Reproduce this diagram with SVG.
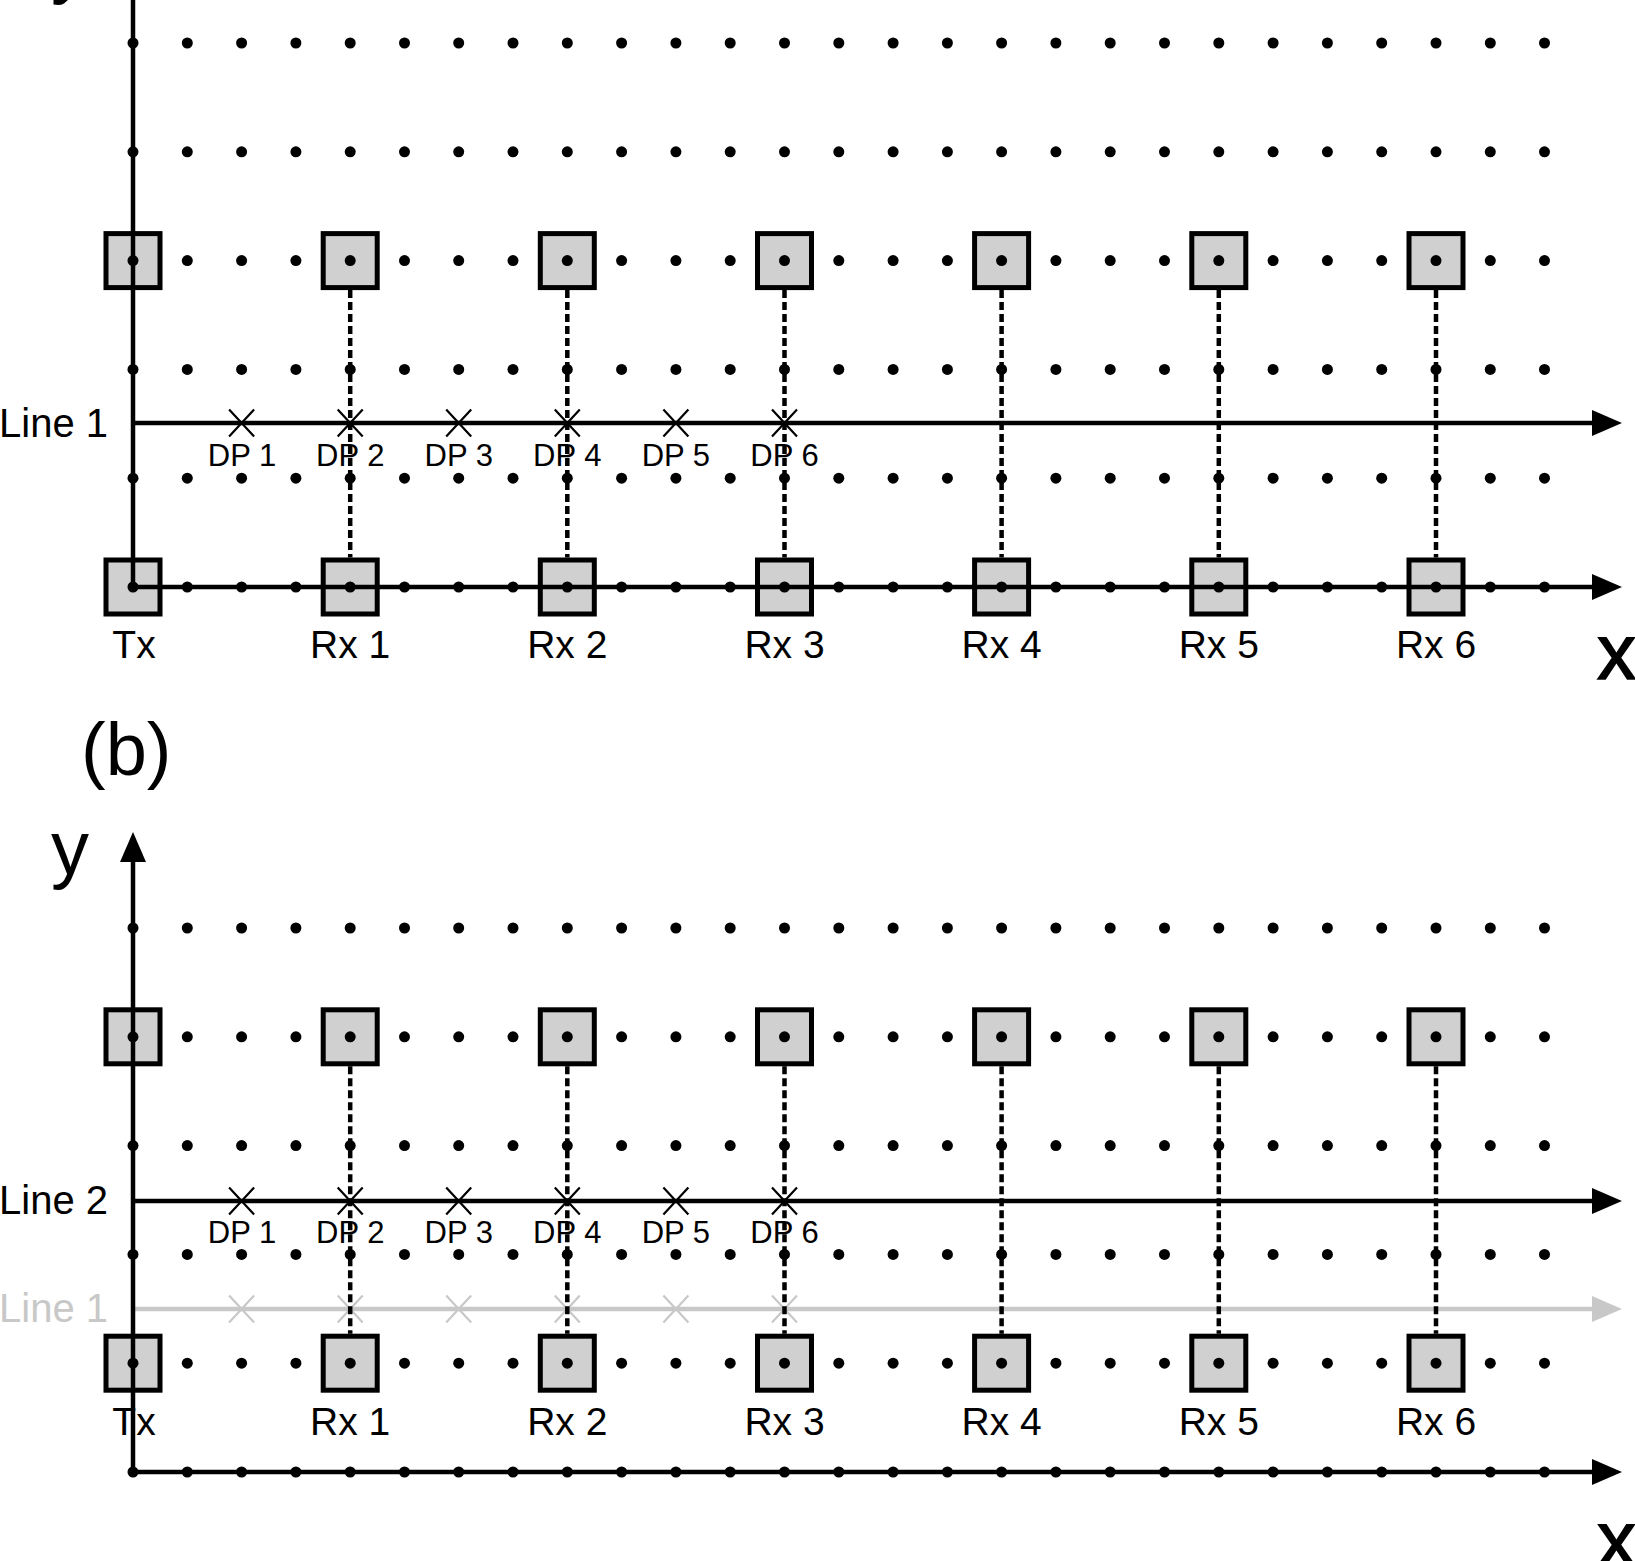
<svg xmlns="http://www.w3.org/2000/svg" xmlns:xlink="http://www.w3.org/1999/xlink" width="1635" height="1561" viewBox="0 0 1635 1561">
<style>
.bx{fill:#d0d0d0;stroke:#000;stroke-width:5}
.ax{stroke:#000;stroke-width:4.5;fill:none}
.gr{stroke:#c8c8c8;stroke-width:4.5;fill:none}
.ds{stroke:#000;stroke-width:4.5;stroke-dasharray:8 4;fill:none}
.cx{stroke:#000;stroke-width:2.2;fill:none}
.cxg{stroke:#c8c8c8;stroke-width:2.2;fill:none}
.dot{fill:#000}
text{font-family:"Liberation Sans",Arial,sans-serif;fill:#000}
.lb{font-size:39px;text-anchor:middle}
.dp{font-size:31px;text-anchor:middle}
.ln{font-size:40px}
.big{font-size:74px}
.axl{font-size:76px}
.xl{font-size:78px;stroke:#000;stroke-width:1.5}
</style>
<defs>
<marker id="ah" viewBox="0 0 30 26" refX="2" refY="13" markerWidth="30" markerHeight="26" markerUnits="userSpaceOnUse" orient="auto"><path d="M0,0 L30,13 L0,26 z" fill="#000"/></marker>
<marker id="ahg" viewBox="0 0 30 26" refX="2" refY="13" markerWidth="30" markerHeight="26" markerUnits="userSpaceOnUse" orient="auto"><path d="M0,0 L30,13 L0,26 z" fill="#c8c8c8"/></marker>
<rect id="box" x="-27" y="-27" width="54" height="54" class="bx"/>
<path id="cr" d="M-12.5,-13.5 L12.5,13.5 M-12.5,13.5 L12.5,-13.5"/>
<g id="row">
<circle cx="133" cy="0" r="5.5"/><circle cx="187.3" cy="0" r="5.5"/><circle cx="241.6" cy="0" r="5.5"/><circle cx="295.9" cy="0" r="5.5"/><circle cx="350.2" cy="0" r="5.5"/><circle cx="404.5" cy="0" r="5.5"/><circle cx="458.7" cy="0" r="5.5"/><circle cx="513" cy="0" r="5.5"/><circle cx="567.3" cy="0" r="5.5"/><circle cx="621.6" cy="0" r="5.5"/><circle cx="675.9" cy="0" r="5.5"/><circle cx="730.2" cy="0" r="5.5"/><circle cx="784.5" cy="0" r="5.5"/><circle cx="838.8" cy="0" r="5.5"/><circle cx="893.1" cy="0" r="5.5"/><circle cx="947.4" cy="0" r="5.5"/><circle cx="1001.6" cy="0" r="5.5"/><circle cx="1055.9" cy="0" r="5.5"/><circle cx="1110.2" cy="0" r="5.5"/><circle cx="1164.5" cy="0" r="5.5"/><circle cx="1218.8" cy="0" r="5.5"/><circle cx="1273.1" cy="0" r="5.5"/><circle cx="1327.4" cy="0" r="5.5"/><circle cx="1381.7" cy="0" r="5.5"/><circle cx="1436" cy="0" r="5.5"/><circle cx="1490.3" cy="0" r="5.5"/><circle cx="1544.5" cy="0" r="5.5"/>
</g>
</defs>
<rect width="1635" height="1561" fill="#fff"/>

<!-- Panel (a) nodes -->
<g id="a-tx-top"><use xlink:href="#box" x="133" y="260.6"/></g>
<g id="a-rx1-top"><use xlink:href="#box" x="350.2" y="260.6"/></g>
<g id="a-rx2-top"><use xlink:href="#box" x="567.3" y="260.6"/></g>
<g id="a-rx3-top"><use xlink:href="#box" x="784.5" y="260.6"/></g>
<g id="a-rx4-top"><use xlink:href="#box" x="1001.6" y="260.6"/></g>
<g id="a-rx5-top"><use xlink:href="#box" x="1218.8" y="260.6"/></g>
<g id="a-rx6-top"><use xlink:href="#box" x="1436" y="260.6"/></g>
<g id="a-tx"><use xlink:href="#box" x="133" y="587"/><text class="lb" x="134" y="658">Tx</text></g>
<g id="a-rx1"><use xlink:href="#box" x="350.2" y="587"/><text class="lb" x="350.2" y="658">Rx 1</text></g>
<g id="a-rx2"><use xlink:href="#box" x="567.3" y="587"/><text class="lb" x="567.3" y="658">Rx 2</text></g>
<g id="a-rx3"><use xlink:href="#box" x="784.5" y="587"/><text class="lb" x="784.5" y="658">Rx 3</text></g>
<g id="a-rx4"><use xlink:href="#box" x="1001.6" y="587"/><text class="lb" x="1001.6" y="658">Rx 4</text></g>
<g id="a-rx5"><use xlink:href="#box" x="1218.8" y="587"/><text class="lb" x="1218.8" y="658">Rx 5</text></g>
<g id="a-rx6"><use xlink:href="#box" x="1436" y="587"/><text class="lb" x="1436" y="658">Rx 6</text></g>

<!-- Panel (b) nodes -->
<g id="b-tx-top"><use xlink:href="#box" x="133" y="1036.8"/></g>
<g id="b-rx1-top"><use xlink:href="#box" x="350.2" y="1036.8"/></g>
<g id="b-rx2-top"><use xlink:href="#box" x="567.3" y="1036.8"/></g>
<g id="b-rx3-top"><use xlink:href="#box" x="784.5" y="1036.8"/></g>
<g id="b-rx4-top"><use xlink:href="#box" x="1001.6" y="1036.8"/></g>
<g id="b-rx5-top"><use xlink:href="#box" x="1218.8" y="1036.8"/></g>
<g id="b-rx6-top"><use xlink:href="#box" x="1436" y="1036.8"/></g>
<g id="b-tx"><use xlink:href="#box" x="133" y="1363.2"/><text class="lb" x="134" y="1435">Tx</text></g>
<g id="b-rx1"><use xlink:href="#box" x="350.2" y="1363.2"/><text class="lb" x="350.2" y="1435">Rx 1</text></g>
<g id="b-rx2"><use xlink:href="#box" x="567.3" y="1363.2"/><text class="lb" x="567.3" y="1435">Rx 2</text></g>
<g id="b-rx3"><use xlink:href="#box" x="784.5" y="1363.2"/><text class="lb" x="784.5" y="1435">Rx 3</text></g>
<g id="b-rx4"><use xlink:href="#box" x="1001.6" y="1363.2"/><text class="lb" x="1001.6" y="1435">Rx 4</text></g>
<g id="b-rx5"><use xlink:href="#box" x="1218.8" y="1363.2"/><text class="lb" x="1218.8" y="1435">Rx 5</text></g>
<g id="b-rx6"><use xlink:href="#box" x="1436" y="1363.2"/><text class="lb" x="1436" y="1435">Rx 6</text></g>

<!-- Connectors -->
<g id="connectors">
<line class="ax" x1="133" y1="0" x2="133" y2="587"/>
<line class="ax" x1="133" y1="587" x2="1594" y2="587" marker-end="url(#ah)"/>
<line class="ax" x1="133" y1="423" x2="1594" y2="423" marker-end="url(#ah)"/>
<line class="ds" x1="350.2" y1="290" x2="350.2" y2="557.5"/>
<line class="ds" x1="567.3" y1="290" x2="567.3" y2="557.5"/>
<line class="ds" x1="784.5" y1="290" x2="784.5" y2="557.5"/>
<line class="ds" x1="1001.6" y1="290" x2="1001.6" y2="557.5"/>
<line class="ds" x1="1218.8" y1="290" x2="1218.8" y2="557.5"/>
<line class="ds" x1="1436" y1="290" x2="1436" y2="557.5"/>
<line class="gr" x1="133" y1="1309" x2="1594" y2="1309" marker-end="url(#ahg)"/>
<g class="cxg">
<use xlink:href="#cr" x="241.6" y="1309"/><use xlink:href="#cr" x="350.2" y="1309"/><use xlink:href="#cr" x="458.7" y="1309"/><use xlink:href="#cr" x="567.3" y="1309"/><use xlink:href="#cr" x="675.9" y="1309"/><use xlink:href="#cr" x="784.5" y="1309"/>
</g>
<line class="ax" x1="133" y1="1472" x2="133" y2="860" marker-end="url(#ah)"/>
<line class="ax" x1="133" y1="1472" x2="1594" y2="1472" marker-end="url(#ah)"/>
<line class="ax" x1="133" y1="1201" x2="1594" y2="1201" marker-end="url(#ah)"/>
<line class="ds" x1="350.2" y1="1066.3" x2="350.2" y2="1333.7"/>
<line class="ds" x1="567.3" y1="1066.3" x2="567.3" y2="1333.7"/>
<line class="ds" x1="784.5" y1="1066.3" x2="784.5" y2="1333.7"/>
<line class="ds" x1="1001.6" y1="1066.3" x2="1001.6" y2="1333.7"/>
<line class="ds" x1="1218.8" y1="1066.3" x2="1218.8" y2="1333.7"/>
<line class="ds" x1="1436" y1="1066.3" x2="1436" y2="1333.7"/>
<g class="cx">
<use xlink:href="#cr" x="241.6" y="423"/><use xlink:href="#cr" x="350.2" y="423"/><use xlink:href="#cr" x="458.7" y="423"/><use xlink:href="#cr" x="567.3" y="423"/><use xlink:href="#cr" x="675.9" y="423"/><use xlink:href="#cr" x="784.5" y="423"/>
<use xlink:href="#cr" x="241.6" y="1201"/><use xlink:href="#cr" x="350.2" y="1201"/><use xlink:href="#cr" x="458.7" y="1201"/><use xlink:href="#cr" x="567.3" y="1201"/><use xlink:href="#cr" x="675.9" y="1201"/><use xlink:href="#cr" x="784.5" y="1201"/>
</g>
</g>

<!-- grid dots -->
<g id="dots" class="dot">
<use xlink:href="#row" y="43"/><use xlink:href="#row" y="151.8"/><use xlink:href="#row" y="260.6"/><use xlink:href="#row" y="369.4"/><use xlink:href="#row" y="478.2"/><use xlink:href="#row" y="587"/>
<use xlink:href="#row" y="928"/><use xlink:href="#row" y="1036.8"/><use xlink:href="#row" y="1145.6"/><use xlink:href="#row" y="1254.4"/><use xlink:href="#row" y="1363.2"/><use xlink:href="#row" y="1472"/>
</g>

<!-- labels -->
<g id="labels">
<text class="axl" x="51" y="-11">y</text>
<text class="xl" x="1597" y="679">x</text>
<text class="ln" x="-1" y="437">Line 1</text>
<text class="dp" x="242" y="466">DP 1</text>
<text class="dp" x="350.2" y="466">DP 2</text>
<text class="dp" x="458.7" y="466">DP 3</text>
<text class="dp" x="567.3" y="466">DP 4</text>
<text class="dp" x="675.9" y="466">DP 5</text>
<text class="dp" x="784.5" y="466">DP 6</text>
<text class="big" x="81" y="775">(b)</text>
<text class="axl" x="51" y="874">y</text>
<text class="xl" x="1597" y="1566">x</text>
<text class="ln" x="-1" y="1214">Line 2</text>
<text class="ln" x="-1" y="1322" style="fill:#c8c8c8">Line 1</text>
<text class="dp" x="242" y="1243">DP 1</text>
<text class="dp" x="350.2" y="1243">DP 2</text>
<text class="dp" x="458.7" y="1243">DP 3</text>
<text class="dp" x="567.3" y="1243">DP 4</text>
<text class="dp" x="675.9" y="1243">DP 5</text>
<text class="dp" x="784.5" y="1243">DP 6</text>
</g>
</svg>
